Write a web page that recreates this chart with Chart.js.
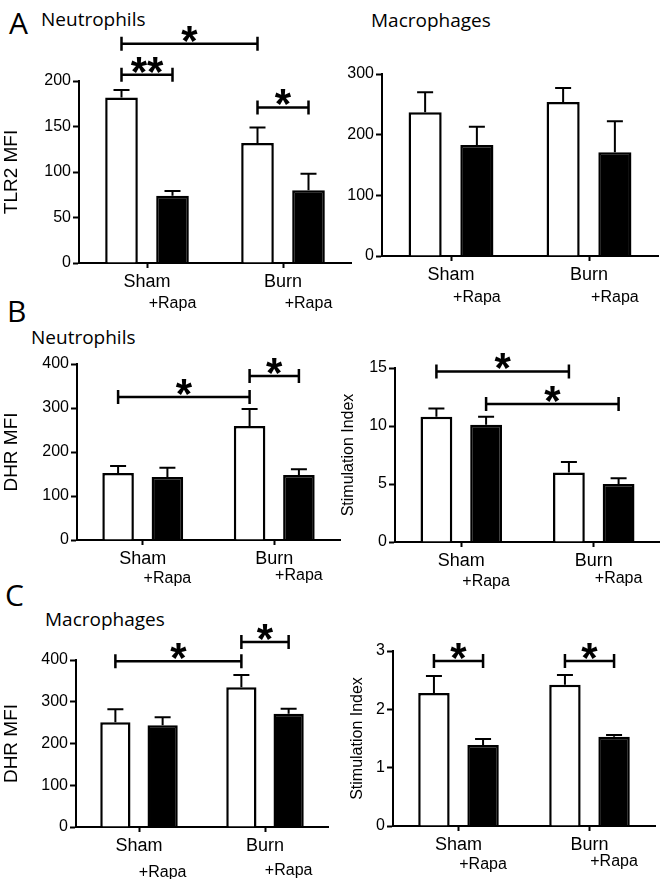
<!DOCTYPE html>
<html><head><meta charset="utf-8">
<script src="https://cdn.jsdelivr.net/npm/chart.js@4.4.0/dist/chart.umd.min.js"></script>
<style>
html,body{margin:0;padding:0;background:#fff;}
body{width:660px;height:879px;position:relative;overflow:hidden;}
canvas{position:absolute;}
.lbl{position:absolute;font-family:'Open Sans',sans-serif;color:#000;line-height:1;white-space:nowrap;}
.letter{font-size:30px;}
.sub{font-size:19px;}
</style></head><body>
<div class="lbl letter" style="left:9px;top:8px">A</div>
<div class="lbl sub" style="left:41px;top:10px">Neutrophils</div>
<div class="lbl sub" style="left:371px;top:11px">Macrophages</div>
<div class="lbl letter" style="left:7px;top:296px">B</div>
<div class="lbl sub" style="left:31px;top:328px">Neutrophils</div>
<div class="lbl letter" style="left:5px;top:580px">C</div>
<div class="lbl sub" style="left:45px;top:610px">Macrophages</div>

<canvas id="cA1" width="360" height="315" style="left:0;top:0"></canvas>
<canvas id="cA2" width="330" height="315" style="left:330px;top:0"></canvas>
<canvas id="cB1" width="345" height="305" style="left:0;top:290px"></canvas>
<canvas id="cB2" width="330" height="305" style="left:330px;top:290px"></canvas>
<canvas id="cC1" width="335" height="299" style="left:0;top:580px"></canvas>
<canvas id="cC2" width="330" height="299" style="left:330px;top:580px"></canvas>

<script>
// ---------- data ----------
const categories = ['Sham', 'Burn'];
const rapaLabels = ['+Rapa', '+Rapa'];

// A: TLR2 MFI
const aNeutTicks = [0, 50, 100, 150, 200];
const aNeutVehicle = [182, 132];
const aNeutVehicleSem = [8, 17];
const aNeutRapa = [74, 80];
const aNeutRapaSem = [5, 18];
const aNeutSig = [[0, 2, 241, '*'], [0, 1, 207, '**'], [2, 3, 171, '*']];

const aMacTicks = [0, 100, 200, 300];
const aMacVehicle = [237, 254];
const aMacVehicleSem = [33, 23];
const aMacRapa = [183, 171];
const aMacRapaSem = [30, 51];
const aMacSig = [];

// B: Neutrophils DHR
const bNeutTicks = [0, 100, 200, 300, 400];
const bNeutVehicle = [152, 259];
const bNeutVehicleSem = [16, 39];
const bNeutRapa = [143, 148];
const bNeutRapaSem = [21, 13];
const bNeutSig = [[0, 2, 325, '*'], [2, 3, 373, '*']];

const bSITicks = [0, 5, 10, 15];
const bSIVehicle = [10.8, 6.0];
const bSIVehicleSem = [0.7, 0.9];
const bSIRapa = [10.1, 5.0];
const bSIRapaSem = [0.7, 0.5];
const bSISig = [[0, 2, 14.7, '*'], [1, 3, 11.9, '*']];

// C: Macrophages DHR
const cMacTicks = [0, 100, 200, 300, 400];
const cMacVehicle = [251, 335];
const cMacVehicleSem = [31, 29];
const cMacRapa = [244, 271];
const cMacRapaSem = [19, 12];
const cMacSig = [[0, 2, 397, '*'], [2, 3, 443, '*']];

const cSITicks = [0, 1, 2, 3];
const cSIVehicle = [2.28, 2.42];
const cSIVehicleSem = [0.29, 0.17];
const cSIRapa = [1.39, 1.53];
const cSIRapaSem = [0.10, 0.03];
const cSISig = [[0, 1, 2.83, '*'], [2, 3, 2.83, '*']];

// ---------- plugins ----------
const extras = {};
const AX = '"Liberation Sans", Arial, sans-serif';

const errorBarPlugin = {
  id: 'errbars',
  afterDatasetsDraw(chart) {
    const ctx = chart.ctx, ys = chart.scales.y;
    chart.data.datasets.forEach((ds, di) => {
      const meta = chart.getDatasetMeta(di);
      meta.data.forEach((bar, i) => {
        const yTop = ys.getPixelForValue(ds.data[i] + ds.errors[i]);
        ctx.save();
        ctx.strokeStyle = '#000'; ctx.lineWidth = 2; ctx.lineCap = 'butt';
        ctx.beginPath();
        ctx.moveTo(bar.x, bar.y); ctx.lineTo(bar.x, yTop);
        ctx.moveTo(bar.x - 8, yTop); ctx.lineTo(bar.x + 8, yTop);
        ctx.stroke();
        ctx.restore();
      });
    });
  }
};

const annotPlugin = {
  id: 'annot',
  afterDraw(chart) {
    const ex = extras[chart.canvas.id];
    if (!ex) return;
    const ctx = chart.ctx, ys = chart.scales.y;
    const barX = idx => chart.getDatasetMeta(idx % 2).data[Math.floor(idx / 2)].x;
    ctx.save();
    ex.sig.forEach(([a, b, val, label]) => {
      const x1 = barX(a), x2 = barX(b), y = ys.getPixelForValue(val);
      ctx.strokeStyle = '#000'; ctx.lineWidth = 2.5;
      ctx.beginPath();
      ctx.moveTo(x1, y); ctx.lineTo(x2, y);
      ctx.moveTo(x1, y - 7); ctx.lineTo(x1, y + 7);
      ctx.moveTo(x2, y - 7); ctx.lineTo(x2, y + 7);
      ctx.stroke();
      const fs = 42;
      ctx.fillStyle = '#000';
      ctx.font = 'bold ' + fs + 'px ' + AX;
      ctx.textAlign = 'center'; ctx.textBaseline = 'alphabetic';
      ctx.fillText(label, (x1 + x2) / 2, y - 13 + 0.57 * fs);
    });
    // +Rapa sub labels under the treated bars
    const meta = chart.getDatasetMeta(1);
    ctx.fillStyle = '#000';
    ctx.font = '16px ' + AX;
    ctx.textAlign = 'center'; ctx.textBaseline = 'alphabetic';
    rapaLabels.forEach((t, i) => {
      ctx.fillText(t, meta.data[i].x, chart.chartArea.bottom + ex.rapaDy[i]);
    });
    ctx.restore();
  }
};

function panel(id, p) {
  extras[id] = { sig: p.sig, rapaDy: p.rapaDy };
  const barCommon = { borderColor: '#000', borderWidth: 2.5, categoryPercentage: 0.75, barPercentage: 0.64, borderSkipped: 'start' };
  new Chart(document.getElementById(id), {
    type: 'bar',
    data: {
      labels: categories,
      datasets: [
        Object.assign({ data: p.veh, errors: p.vehSem, backgroundColor: '#fff' }, barCommon),
        Object.assign({ data: p.rapa, errors: p.rapaSem, backgroundColor: '#000' }, barCommon)
      ]
    },
    options: {
      responsive: false, animation: false, devicePixelRatio: 1,
      layout: { padding: { left: 0, top: p.pt, right: p.pr, bottom: 0 } },
      plugins: { legend: { display: false }, tooltip: { enabled: false }, title: { display: false } },
      scales: {
        x: {
          type: 'category', offset: true, z: 1,
          grid: { display: true, drawOnChartArea: false, drawTicks: true, tickLength: 5, tickWidth: 2, color: '#000', offset: false },
          border: { display: true, color: '#000', width: 2 },
          ticks: { color: '#000', font: { family: AX, size: 18 }, padding: 3, maxRotation: 0, autoSkip: false },
          afterFit: s => { s.height = p.xH; }
        },
        y: {
          min: p.ticks[0], max: p.ticks[p.ticks.length - 1], z: 1,
          afterBuildTicks: s => { s.ticks = p.ticks.map(v => ({ value: v })); },
          grid: { display: true, drawOnChartArea: false, drawTicks: true, tickLength: 6, tickWidth: 2, color: '#000' },
          border: { display: true, color: '#000', width: 2 },
          ticks: { color: '#000', font: { family: AX, size: 16 }, padding: 2 },
          title: p.title ? { display: true, text: p.title, color: '#000', font: { family: AX, size: p.titleSize }, padding: { top: p.titlePad, bottom: 0 } } : { display: false },
          afterFit: s => { s.width = p.yW; }
        }
      }
    },
    plugins: [errorBarPlugin, annotPlugin]
  });
}

panel('cA1', { veh: aNeutVehicle, vehSem: aNeutVehicleSem, rapa: aNeutRapa, rapaSem: aNeutRapaSem, ticks: aNeutTicks, sig: aNeutSig,
  pt: 81, yW: 79, pr: 9, xH: 52, title: 'TLR2 MFI', titleSize: 19, titlePad: 0, rapaDy: [45, 45] });
panel('cA2', { veh: aMacVehicle, vehSem: aMacVehicleSem, rapa: aMacRapa, rapaSem: aMacRapaSem, ticks: aMacTicks, sig: aMacSig,
  pt: 74, yW: 52, pr: 2, xH: 59, title: null, rapaDy: [46, 46] });
panel('cB1', { veh: bNeutVehicle, vehSem: bNeutVehicleSem, rapa: bNeutRapa, rapaSem: bNeutRapaSem, ticks: bNeutTicks, sig: bNeutSig,
  pt: 74, yW: 77, pr: 5, xH: 55, title: 'DHR MFI', titleSize: 19, titlePad: 0, rapaDy: [43, 40] });
panel('cB2', { veh: bSIVehicle, vehSem: bSIVehicleSem, rapa: bSIRapa, rapaSem: bSIRapaSem, ticks: bSITicks, sig: bSISig,
  pt: 78, yW: 65, pr: 0, xH: 53, title: 'Stimulation Index', titleSize: 16, titlePad: 9, rapaDy: [44, 41] });
panel('cC1', { veh: cMacVehicle, vehSem: cMacVehicleSem, rapa: cMacRapa, rapaSem: cMacRapaSem, ticks: cMacTicks, sig: cMacSig,
  pt: 80, yW: 76, pr: 7, xH: 52, title: 'DHR MFI', titleSize: 19, titlePad: 0, rapaDy: [50, 48] });
panel('cC2', { veh: cSIVehicle, vehSem: cSIVehicleSem, rapa: cSIRapa, rapaSem: cSIRapaSem, ticks: cSITicks, sig: cSISig,
  pt: 71, yW: 63, pr: 5, xH: 53, title: 'Stimulation Index', titleSize: 16, titlePad: 18, rapaDy: [43, 40] });
</script>
</body></html>
